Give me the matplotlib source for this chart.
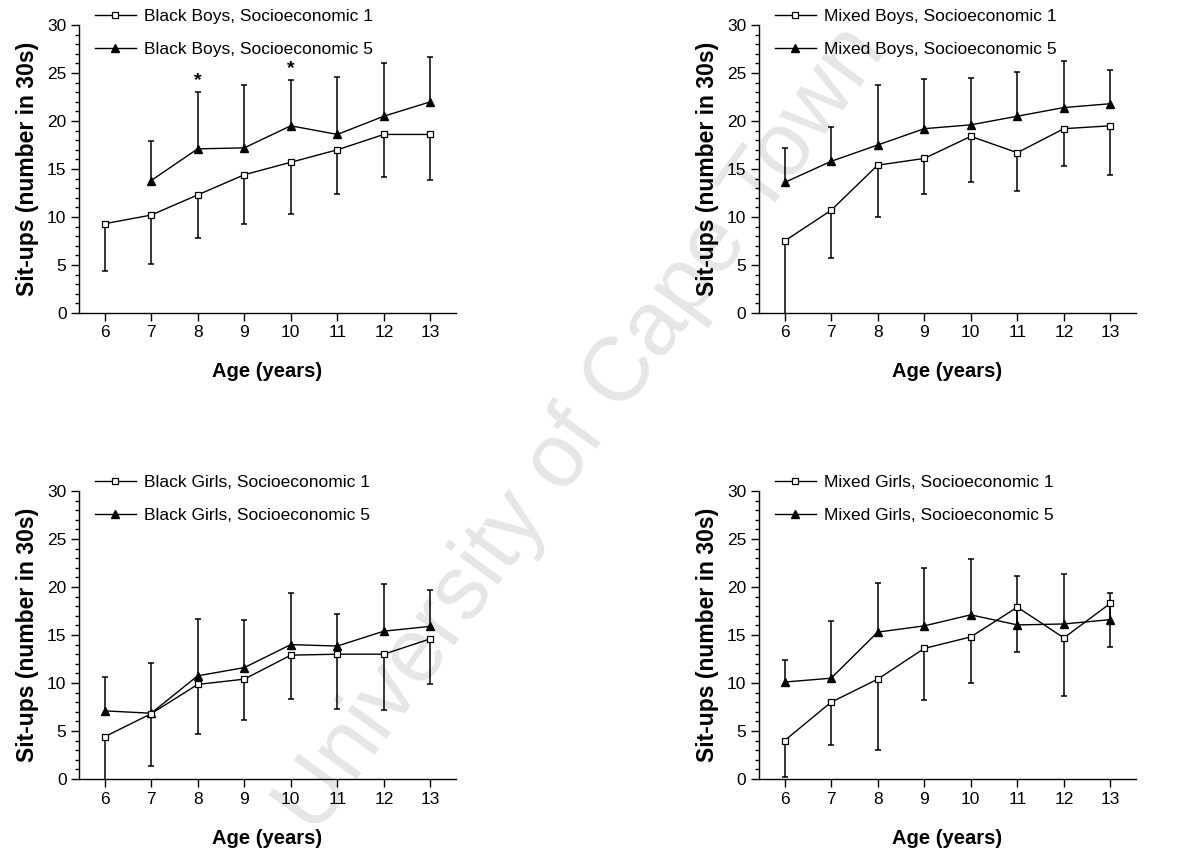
import numpy as np
import matplotlib
matplotlib.use("Agg")
import matplotlib.pyplot as plt

plt.rcParams['font.family'] = ['Liberation Sans', 'DejaVu Sans']

ages = [6, 7, 8, 9, 10, 11, 12, 13]
y_ticks = [0, 5, 10, 15, 20, 25, 30]

# Black Boys
bb_s1_mean = [9.3, 10.2, 12.3, 14.4, 15.7, 17.0, 18.6, 18.6]
bb_s1_sd = [4.9, 5.1, 4.5, 5.1, 5.4, 4.6, 4.4, 4.7]
bb_s5_mean = [np.nan, 13.8, 17.1, 17.2, 19.5, 18.6, 20.5, 22.0]
bb_s5_sd = [np.nan, 4.1, 5.9, 6.6, 4.8, 6.0, 5.5, 4.7]
bb_sig_ages = [8, 10]

# Mixed Boys
mb_s1_mean = [7.5, 10.7, 15.4, 16.1, 18.4, 16.7, 19.2, 19.5]
mb_s1_sd = [7.8, 5.0, 5.4, 3.7, 4.8, 4.0, 3.85, 5.1]
mb_s5_mean = [13.6, 15.8, 17.5, 19.2, 19.6, 20.5, 21.4, 21.8]
mb_s5_sd = [3.6, 3.6, 6.3, 5.2, 4.9, 4.6, 4.8, 3.5]

# Black Girls
bg_s1_mean = [4.4, 6.8, 9.85, 10.4, 12.9, 13.0, 13.0, 14.6]
bg_s1_sd = [4.8, 5.4, 5.2, 4.3, 4.6, 5.7, 5.85, 4.7]
bg_s5_mean = [7.1, 6.85, 10.75, 11.6, 14.0, 13.85, 15.4, 15.9]
bg_s5_sd = [3.5, 5.2, 5.9, 4.95, 5.4, 3.3, 4.9, 3.8]

# Mixed Girls
mg_s1_mean = [4.0, 8.0, 10.4, 13.6, 14.8, 17.9, 14.7, 18.3]
mg_s1_sd = [3.8, 4.45, 7.35, 5.35, 4.8, 4.7, 6.05, 4.5]
mg_s5_mean = [10.1, 10.5, 15.3, 15.95, 17.1, 16.05, 16.15, 16.6]
mg_s5_sd = [2.3, 6.0, 5.1, 6.05, 5.8, 5.1, 5.25, 2.8]

panels = [
    ("Black Boys", bb_s1_mean, bb_s1_sd, bb_s5_mean, bb_s5_sd, bb_sig_ages),
    ("Mixed Boys", mb_s1_mean, mb_s1_sd, mb_s5_mean, mb_s5_sd, []),
    ("Black Girls", bg_s1_mean, bg_s1_sd, bg_s5_mean, bg_s5_sd, []),
    ("Mixed Girls", mg_s1_mean, mg_s1_sd, mg_s5_mean, mg_s5_sd, []),
]

W, H = 1188, 852
fig = plt.figure(figsize=(W / 100, H / 100), dpi=100)

ax_w, ax_h = 377, 288
lefts = [79, 759, 79, 759]
tops = [25, 25, 491, 491]

fig.text(0.49, 0.495, "University of Cape Town", fontsize=65, color='#e6e6e6',
         rotation=54, ha='center', va='center', zorder=-5)

for (name, s1m, s1sd, s5m, s5sd, sig), l, t in zip(panels, lefts, tops):
    ax = fig.add_axes([l / W, 1 - (t + ax_h) / H, ax_w / W, ax_h / H])
    ax.patch.set_visible(False)
    x = np.array(ages, dtype=float)
    s1m = np.array(s1m); s1sd = np.array(s1sd)
    s5m = np.array(s5m); s5sd = np.array(s5sd)

    # one-sided error bars: S1 downward, S5 upward
    lo = s1m - s1sd
    ax.vlines(x, lo, s1m, color='black', lw=1.1, zorder=2)
    ax.plot(x, lo, ls='none', marker='_', ms=5, mew=1.1, color='black', zorder=2)
    hi = s5m + s5sd
    ax.vlines(x, s5m, hi, color='black', lw=1.1, zorder=2)
    ax.plot(x, hi, ls='none', marker='_', ms=5, mew=1.1, color='black', zorder=2)

    ax.plot(x, s1m, color='black', lw=1.0, marker='s', ms=4.5, mfc='white',
            mec='black', mew=0.9, zorder=4, label=f"{name}, Socioeconomic 1")
    ax.plot(x, s5m, color='black', lw=1.0, marker='^', ms=5.5, mfc='black',
            mec='black', zorder=3, label=f"{name}, Socioeconomic 5")

    for a in sig:
        i = ages.index(a)
        ax.text(a, hi[i] + 0.3, "*", ha='center', va='bottom', fontsize=14,
                fontweight='bold')

    ax.set_xlim(5.45, 13.55)
    ax.set_ylim(0, 30)
    ax.set_xticks(ages)
    ax.set_yticks(y_ticks)
    ax.set_yticks(np.arange(0, 31, 1), minor=True)
    ax.tick_params(axis='both', which='major', direction='out', length=6,
                   width=1.0, labelsize=12.5, pad=3)
    ax.tick_params(axis='y', which='minor', direction='out', length=3, width=1.0)
    ax.tick_params(axis='x', which='minor', bottom=False)
    for s in ['top', 'right']:
        ax.spines[s].set_visible(False)
    for s in ['left', 'bottom']:
        ax.spines[s].set_linewidth(1.0)

    ax.set_xlabel("Age (years)", fontsize=14.5, fontweight='bold')
    ax.set_ylabel("Sit-ups (number in 30s)", fontsize=16.5, fontweight='bold')
    ax.xaxis.set_label_coords(0.5, -59 / ax_h)
    ax.xaxis.label.set_va('center')
    ax.yaxis.set_label_coords(-51 / ax_w, 0.5)
    ax.yaxis.label.set_va('center')

    ax.legend(loc='center left', bbox_to_anchor=(16 / ax_w, 1 + (25 - 33) / ax_h),
              frameon=False, fontsize=12.5, handlelength=2.36, handletextpad=0.45,
              labelspacing=1.0, borderpad=0, borderaxespad=0)

fig.savefig("out.png", dpi=100)
